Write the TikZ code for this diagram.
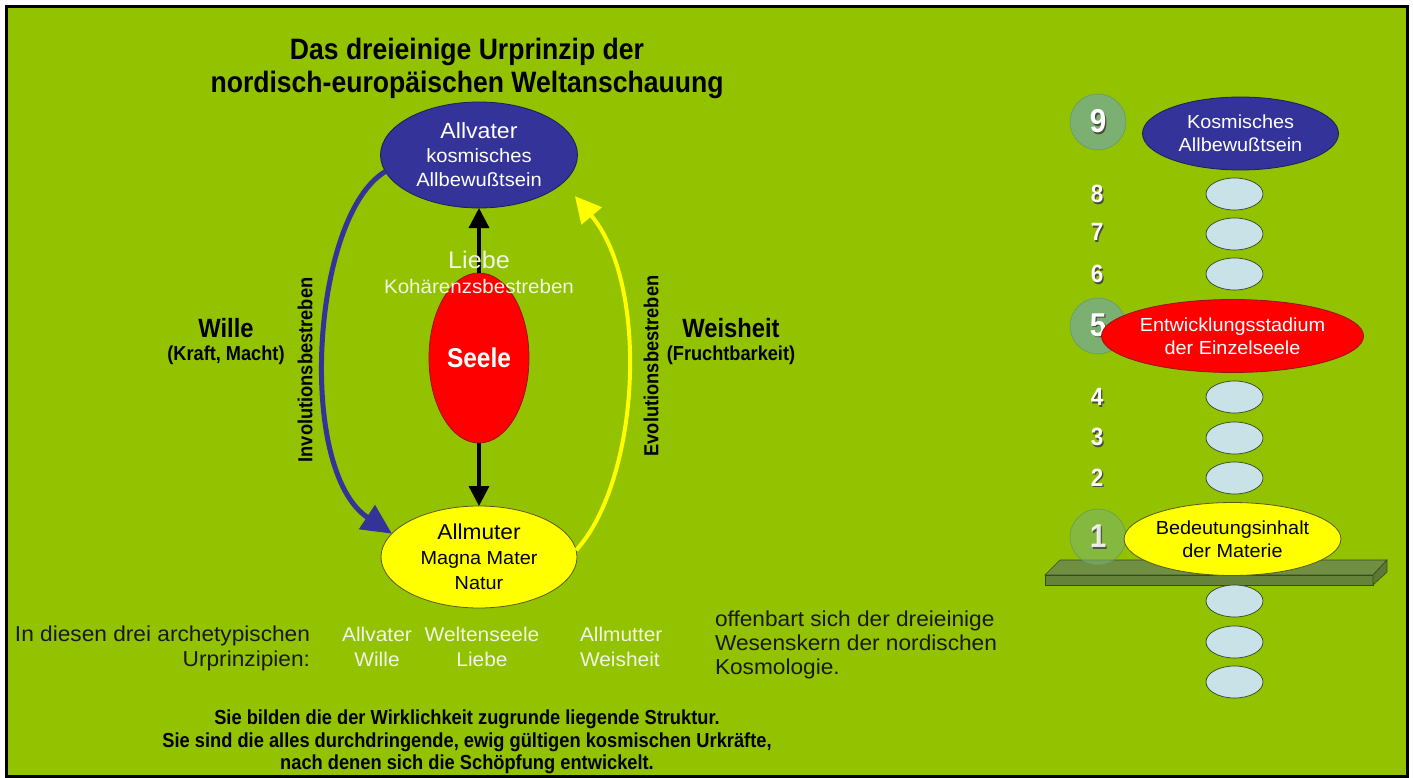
\documentclass[tikz,border=0pt]{standalone}
\usepackage{fontspec}
\setmainfont{Liberation Sans}
\newfontfamily\wf[FakeStretch=1.05]{Liberation Sans}
\newfontfamily\bc[FakeStretch=0.9]{Liberation Sans}
\usetikzlibrary{arrows.meta,shapes.geometric}

\definecolor{bg}{RGB}{146,194,0}
\definecolor{navy}{RGB}{51,51,153}
\definecolor{navyline}{RGB}{30,30,95}
\definecolor{soulred}{RGB}{255,0,0}
\definecolor{soulline}{RGB}{150,20,20}
\definecolor{sun}{RGB}{255,255,0}
\definecolor{sunline}{RGB}{90,90,30}
\definecolor{pale}{RGB}{200,226,232}
\definecolor{paleline}{RGB}{50,70,40}
\definecolor{sage}{RGB}{124,176,114}
\definecolor{sageline}{RGB}{100,150,95}
\definecolor{planktop}{RGB}{112,143,66}
\definecolor{plankfront}{RGB}{102,131,58}
\definecolor{plankside}{RGB}{92,120,52}
\definecolor{plankline}{RGB}{55,75,35}
\definecolor{ink}{RGB}{25,25,25}
\definecolor{softwhite}{RGB}{242,244,232}
\definecolor{digitshade}{RGB}{70,75,60}

\newcommand\fsz[2]{\fontsize{#1}{#2}\selectfont}
\newcommand\embossed[1]{\leavevmode\rlap{\kern1.4pt\raisebox{-1.4pt}{\textcolor{digitshade}{#1}}}#1}

\begin{document}
\begin{tikzpicture}[x=1pt,y=1pt,
  every node/.style={inner sep=0pt, outer sep=0pt},
  roundbox/.style={ellipse, line width=0.8pt, inner sep=0pt, align=center},
  mainbox/.style={roundbox, minimum width=197pt, minimum height=106pt, font=\wf\fsz{19.2}{24}},
  sidebox/.style={roundbox, minimum width=196pt, minimum height=73pt, font=\wf\fsz{18.9}{23}},
  stepbox/.style={roundbox, fill=pale, draw=paleline, line width=0.7pt, minimum width=57pt, minimum height=32pt},
  levelnum/.style={text=white, font=\bc\bfseries\fsz{25}{25}},
  levelball/.style={circle, minimum size=56pt, fill=sage, draw=sageline, line width=0.5pt, text=white, font=\bc\bfseries\fsz{33}{33}},
  stem/.style={line width=3.3pt, -{Triangle[length=20pt,width=20pt]}},
  headline/.style={anchor=base, text=black, font=\bc\bfseries\fsz{29.5}{32}},
  sidelabel/.style={text=black, font=\bc\bfseries\fsz{26.4}{28}},
  sidenote/.style={text=black, font=\bc\bfseries\fsz{20.2}{22}},
  vertlabel/.style={rotate=90, text=black, font=\bc\bfseries\fsz{20.3}{22}},
  bodytext/.style={anchor=base, text=ink, font=\wf\fsz{21.6}{24}},
  whiteword/.style={anchor=base, text=softwhite, font=\wf\fsz{19.9}{24}},
  closing/.style={anchor=base, text=black, font=\bc\bfseries\fsz{20.3}{23}}
]
\useasboundingbox (0,0) rectangle (1413,-778);
\fill[white] (0,0) rectangle (1413,-778);
\draw[line width=2.5pt, fill=bg] (6.5,-6.5) rectangle (1407.5,-776.5);

% title
\node[headline] (title1) at (467,-60) {Das dreieinige Urprinzip der};
\node[headline] (title2) at (467,-93) {nordisch-europäischen Weltanschauung};

% the three principles
\node[mainbox, fill=navy, draw=navyline, text=white] (allvater) at (479,-155)
  {{\fsz{22}{24}Allvater}\\kosmisches\\Allbewußtsein};
\node[roundbox, fill=soulred, draw=soulline, minimum width=100pt, minimum height=170pt,
      text=white, font=\bc\bfseries\fsz{27.2}{28}] (seele) at (479,-358) {Seele};
\node[mainbox, fill=sun, draw=sunline, text=black, minimum width=196pt, minimum height=102pt,
      font=\wf\fsz{18.9}{25}] (allmuter) at (479,-557)
  {{\fsz{21.6}{25}Allmuter}\\Magna Mater\\Natur};

% vertical connections through the soul
\draw[stem] (seele.north) -- (allvater.south);
\draw[stem] (seele.south) -- (allmuter.north);
\node[anchor=base, text=softwhite, font=\wf\fsz{24}{26}] (liebe) at (479,-268) {Liebe};
\node[anchor=base, text=softwhite, font=\wf\fsz{19.6}{22}] (kohaerenz) at (479,-293) {Kohärenzsbestreben};

% involution and evolution
\draw[navy, line width=5pt, -{Triangle[length=30pt,width=28pt]}]
  (allvater.190) .. controls (312,-215) and (296,-470) .. (allmuter.165);
\draw[sun, line width=4pt, shorten >=18pt, -{Triangle[length=26pt,width=26pt]}]
  (allmuter.4) .. controls (640,-480) and (650,-285) .. (allvater.-18);

\node[vertlabel] (invol) at (305,-370) {Involutionsbestreben};
\node[vertlabel] (evol) at (651,-366) {Evolutionsbestreben};

\node[sidelabel] (wille) at (226,-328) {Wille};
\node[sidenote] (kraft) at (226,-355) {(Kraft, Macht)};
\node[sidelabel] (weisheit) at (731,-328) {Weisheit};
\node[sidenote] (frucht) at (731,-355) {(Fruchtbarkeit)};

% summary lines
\node[bodytext, anchor=base east] (in1) at (310,-641) {In diesen drei archetypischen};
\node[bodytext, anchor=base east] (in2) at (310,-666) {Urprinzipien:};
\node[whiteword] (w1a) at (377,-641) {Allvater};
\node[whiteword] (w1b) at (377,-666) {Wille};
\node[whiteword] (w2a) at (482,-641) {Weltenseele};
\node[whiteword] (w2b) at (482,-666) {Liebe};
\node[whiteword, anchor=base west] (w3a) at (580,-641) {Allmutter};
\node[whiteword, anchor=base west] (w3b) at (580,-666) {Weisheit};
\node[bodytext, anchor=base west] (of1) at (715,-626) {offenbart sich der dreieinige};
\node[bodytext, anchor=base west] (of2) at (715,-650) {Wesenskern der nordischen};
\node[bodytext, anchor=base west] (of3) at (715,-674) {Kosmologie.};

\node[closing] (end1) at (467,-724) {Sie bilden die der Wirklichkeit zugrunde liegende Struktur.};
\node[closing] (end2) at (467,-747) {Sie sind die alles durchdringende, ewig gültigen kosmischen Urkräfte,};
\node[closing] (end3) at (467,-769) {nach denen sich die Schöpfung entwickelt.};

% ladder of development stages
\filldraw[fill=planktop, draw=plankline, line width=0.6pt]
  (1045,-575) -- (1060,-560) -- (1387,-560) -- (1373,-575) -- cycle;
\filldraw[fill=plankfront, draw=plankline, line width=0.6pt]
  (1045,-575) -- (1373,-575) -- (1373,-585) -- (1045,-585) -- cycle;
\filldraw[fill=plankside, draw=plankline, line width=0.6pt]
  (1373,-575) -- (1387,-560) -- (1387,-572) -- (1373,-585) -- cycle;

\node[levelball] (n9) at (1098,-122) {\embossed{9}};
\node[levelball] (n5) at (1098,-326) {\embossed{5}};
\node[levelball, fill opacity=0.55, text opacity=0.85] (n1) at (1098,-537) {\embossed{1}};

\node[sidebox, fill=navy, draw=navyline, text=white] (s9) at (1240.5,-133.5) {Kosmisches\\Allbewußtsein};
\node[sidebox, fill=soulred, draw=soulline, text=white] (s5) at (1232.5,-336) {Entwicklungsstadium\\der Einzelseele};
\node[sidebox, fill=sun, draw=sunline, text=black] (s1) at (1232.5,-539) {Bedeutungsinhalt\\der Materie};

\node[stepbox] (s8) at (1234.5,-194) {};
\node[stepbox] (s7) at (1234.5,-234) {};
\node[stepbox] (s6) at (1234.5,-274) {};
\node[stepbox] (s4) at (1234.5,-397) {};
\node[stepbox] (s3) at (1234.5,-438) {};
\node[stepbox] (s2) at (1234.5,-478) {};
\node[stepbox] (u1) at (1234.5,-601) {};
\node[stepbox] (u2) at (1234.5,-642) {};
\node[stepbox] (u3) at (1234.5,-682) {};

\node[levelnum] (n8) at (1097,-195) {\embossed{8}};
\node[levelnum] (n7) at (1097,-233) {\embossed{7}};
\node[levelnum] (n6) at (1097,-275) {\embossed{6}};
\node[levelnum] (n4) at (1097,-398) {\embossed{4}};
\node[levelnum] (n3) at (1097,-438) {\embossed{3}};
\node[levelnum] (n2) at (1097,-478) {\embossed{2}};
\end{tikzpicture}
\end{document}
